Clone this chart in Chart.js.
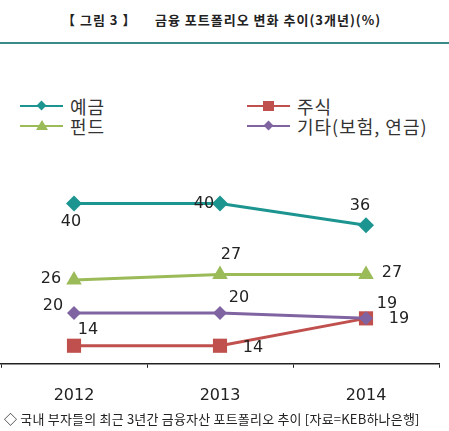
<!DOCTYPE html>
<html>
<head>
<meta charset="utf-8">
<script src="https://cdn.jsdelivr.net/npm/chart.js@4"></script>
<style>
  body { margin: 0; width: 449px; height: 431px; background: #fff; position: relative; overflow: hidden;
         font-family: "Noto Sans CJK KR", "Liberation Sans", sans-serif; color: #222; }
  .title { position: absolute; top: 10px; font-size: 13px; font-weight: bold; white-space: pre; letter-spacing: 1px; }
  .rule { position: absolute; top: 42px; left: 0; width: 449px; height: 2px; background: #3a8a88; }
  .legend { position: absolute; font-size: 18px; color: #333; letter-spacing: 1px; }
  .legend .item { position: absolute; white-space: nowrap; height: 20px; line-height: 20px; }
  .legend .ln { position: absolute; left: 0; top: 9px; width: 43px; height: 2px; }
  .legend .txt { position: absolute; left: 50px; top: 0; }
  .legend .mk { position: absolute; }
  .footer { position: absolute; top: 409px; left: 4px; font-size: 13px; white-space: nowrap; letter-spacing: 0.2px; }
  #wrap { position: absolute; left: -9px; top: 131px; width: 458px; height: 292px; }
</style>
</head>
<body>
<div class="title" style="left:62px">【 그림 3 】</div>
<div class="title" style="left:155px">금융 포트폴리오 변화 추이(3개년)(%)</div>
<div class="rule"></div>
<div class="legend" id="legend"></div>
<div id="wrap"><canvas id="chart"></canvas></div>
<div class="footer">◇ 국내 부자들의 최근 3년간 금융자산 포트폴리오 추이 [자료=KEB하나은행]</div>
<script>
const years = ['2012', '2013', '2014'];
const seriesNames = ['예금', '주식', '펀드', '기타(보험, 연금)'];
const deposit = [40, 40, 36];
const stock = [14, 14, 19];
const fund = [26, 27, 27];
const other = [20, 20, 19];

// where each value label sits relative to its point
const labelOffsets = [
  [[-3, 18], [-16, 0], [-6, -19]],
  [[14, -16], [33, 2], [21, -15]],
  [[-23, -1], [11, -20], [26, -2]],
  [[-21, -7], [19, -15], [33, 0]]
];

const colors = ['#1c9591', '#c0504d', '#9bbb59', '#8064a2'];
const shapes = ['rectRot', 'rect', 'triangle', 'rectRot'];
const radii = [8, 10, 9, 7];

// legend
const legendPos = [[20, 96], [247, 96], [20, 116], [247, 116]];
const legendEl = document.getElementById('legend');
seriesNames.forEach((name, i) => {
  const item = document.createElement('div');
  item.className = 'item';
  item.style.left = legendPos[i][0] + 'px';
  item.style.top = legendPos[i][1] + 'px';
  let marker;
  if (shapes[i] == 'rect') {
    marker = `<div class="mk" style="left:16px;top:5px;width:11px;height:10px;background:${colors[i]}"></div>`;
  } else if (shapes[i] == 'triangle') {
    marker = `<div class="mk" style="left:16px;top:4px;width:0;height:0;border-left:6px solid transparent;border-right:6px solid transparent;border-bottom:10px solid ${colors[i]}"></div>`;
  } else {
    marker = `<div class="mk" style="left:18px;top:6px;width:7px;height:7px;background:${colors[i]};transform:rotate(45deg)"></div>`;
  }
  item.innerHTML = `<div class="ln" style="background:${colors[i]}"></div>${marker}<span class="txt">${name}</span>`;
  legendEl.appendChild(item);
});

const valueLabels = {
  id: 'valueLabels',
  afterDatasetsDraw(chart) {
    const ctx = chart.ctx;
    ctx.save();
    ctx.font = '16px "DejaVu Sans", sans-serif';
    ctx.fillStyle = '#222';
    ctx.textAlign = 'center';
    ctx.textBaseline = 'middle';
    chart.data.datasets.forEach((ds, i) => {
      const offs = labelOffsets[ds.labelIdx];
      chart.getDatasetMeta(i).data.forEach((pt, j) => {
        ctx.fillText(ds.data[j], pt.x + offs[j][0], pt.y + offs[j][1]);
      });
    });
    ctx.restore();
  }
};

const allData = [deposit, stock, fund, other];
const order = [2, 3, 1, 0];
const datasets = order.map(i => ({
  label: seriesNames[i],
  data: allData[i],
  borderColor: colors[i],
  backgroundColor: colors[i],
  borderWidth: 3,
  pointStyle: shapes[i],
  pointRadius: radii[i],
  pointBorderWidth: 0,
  labelIdx: i
}));

new Chart(document.getElementById('chart'), {
  type: 'line',
  data: { labels: years, datasets: datasets },
  options: {
    responsive: true,
    maintainAspectRatio: false,
    animation: false,
    clip: false,
    layout: { padding: 0 },
    plugins: { legend: { display: false }, tooltip: { enabled: false } },
    scales: {
      x: {
        offset: true,
        grid: { offset: true, drawOnChartArea: false, drawTicks: true, tickLength: 4, color: '#222' },
        border: { display: true, color: '#222', width: 1.5 },
        ticks: { color: '#222', font: { size: 16, family: '"DejaVu Sans", sans-serif' }, padding: 18 }
      },
      y: { display: false, min: 10.7, max: 51.4 }
    }
  },
  plugins: [valueLabels]
});
</script>
</body>
</html>
